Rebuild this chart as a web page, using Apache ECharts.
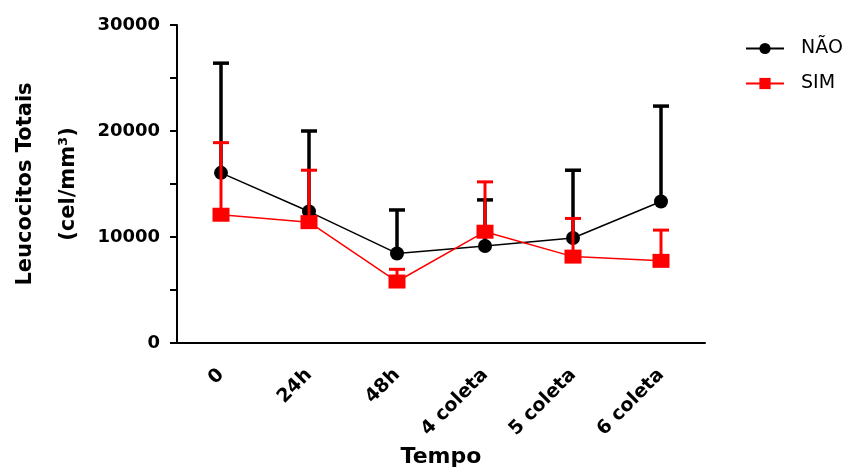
<!DOCTYPE html>
<html>
<head>
<meta charset="utf-8">
<script src="https://cdn.jsdelivr.net/npm/echarts@6/dist/echarts.min.js"></script>
<style>html,body{margin:0;padding:0;background:#fff}#c{width:861px;height:473px}</style>
</head>
<body>
<div id="c"></div>
<script>
var categories = ['0', '24h', '48h', '4 coleta', '5 coleta', '6 coleta'];
var naoMean = [16050, 12400, 8450, 9150, 9900, 13350];
var naoUpper = [26400, 20000, 12550, 13500, 16300, 22350];
var simMean = [12100, 11400, 5800, 10500, 8150, 7750];
var simUpper = [18900, 16300, 6950, 15200, 11750, 10650];
var yTicks = [0, 10000, 20000, 30000];

var BOLD = 'DejaVu Sans';
function errData(mean, upper) {
  return mean.map(function (m, i) { return [i, m, upper[i]]; });
}
function errRender(color, w) {
  return function (params, api) {
    var p = api.coord([api.value(0), api.value(1)]);
    var t = api.coord([api.value(0), api.value(2)]);
    var hw = 8;
    return {
      type: 'group',
      children: [
        { type: 'line', shape: { x1: p[0], y1: p[1], x2: t[0], y2: t[1] }, style: { stroke: color, lineWidth: w } },
        { type: 'line', shape: { x1: t[0] - hw, y1: t[1], x2: t[0] + hw, y2: t[1] }, style: { stroke: color, lineWidth: w } }
      ]
    };
  };
}

var chart = echarts.init(document.getElementById('c'));
chart.setOption({
  animation: false,
  textStyle: { fontFamily: BOLD },
  grid: { left: 177, right: 156, top: 25, bottom: 130, outerBoundsMode: 'none', containLabel: false },
  legend: {
    orient: 'vertical',
    left: 740,
    top: 34,
    itemWidth: 38,
    itemHeight: 14,
    itemGap: 16,
    textStyle: { fontFamily: 'DejaVu Sans', fontSize: 19, color: '#000', padding: [0, 0, 0, 12] },
    data: ['NÃO', 'SIM']
  },
  xAxis: {
    type: 'category',
    data: categories,
    boundaryGap: true,
    name: 'Tempo',
    nameLocation: 'middle',
    nameGap: 103,
    nameMoveOverlap: false,
    nameTextStyle: { fontFamily: BOLD, fontSize: 22, fontWeight: 'bold', color: '#000' },
    axisLine: { lineStyle: { color: '#000', width: 2 } },
    axisTick: { alignWithLabel: true, length: 8, lineStyle: { color: '#000', width: 2 } },
    axisLabel: { rotate: 45, margin: 29, fontFamily: BOLD, fontSize: 19, fontWeight: 'bold', color: '#000' }
  },
  yAxis: {
    type: 'value',
    min: 0,
    max: 30000,
    interval: 10000,
    name: 'Leucocitos Totais\n(cel/mm³)',
    nameLocation: 'middle',
    nameGap: 87,
    nameMoveOverlap: false,
    nameTextStyle: { fontFamily: BOLD, fontSize: 21, fontWeight: 'bold', color: '#000', lineHeight: 43 },
    splitLine: { show: false },
    axisLine: { show: true, lineStyle: { color: '#000', width: 2 } },
    axisTick: { show: true, length: 7, lineStyle: { color: '#000', width: 2 } },
    minorTick: { show: true, splitNumber: 2, length: 7, lineStyle: { color: '#000', width: 2 } },
    axisLabel: {
      margin: 17, fontFamily: BOLD, fontSize: 18, fontWeight: 'bold', color: '#000',
      formatter: function (v) { return yTicks.indexOf(v) >= 0 ? String(v) : ''; }
    }
  },
  series: [
    {
      name: 'NÃO-err', type: 'custom', z: 1,
      renderItem: errRender('#000', 3.5),
      data: errData(naoMean, naoUpper)
    },
    {
      name: 'NÃO', type: 'line', z: 2, data: naoMean,
      symbol: 'circle', symbolSize: 14,
      itemStyle: { color: '#000' },
      lineStyle: { color: '#000', width: 1.5 }
    },
    {
      name: 'SIM-err', type: 'custom', z: 3,
      renderItem: errRender('#ff0000', 3),
      data: errData(simMean, simUpper)
    },
    {
      name: 'SIM', type: 'line', z: 4, data: simMean,
      symbol: 'rect', symbolSize: [17, 14],
      itemStyle: { color: '#ff0000' },
      lineStyle: { color: '#ff0000', width: 1.5 }
    }
  ]
});
</script>
</body>
</html>
